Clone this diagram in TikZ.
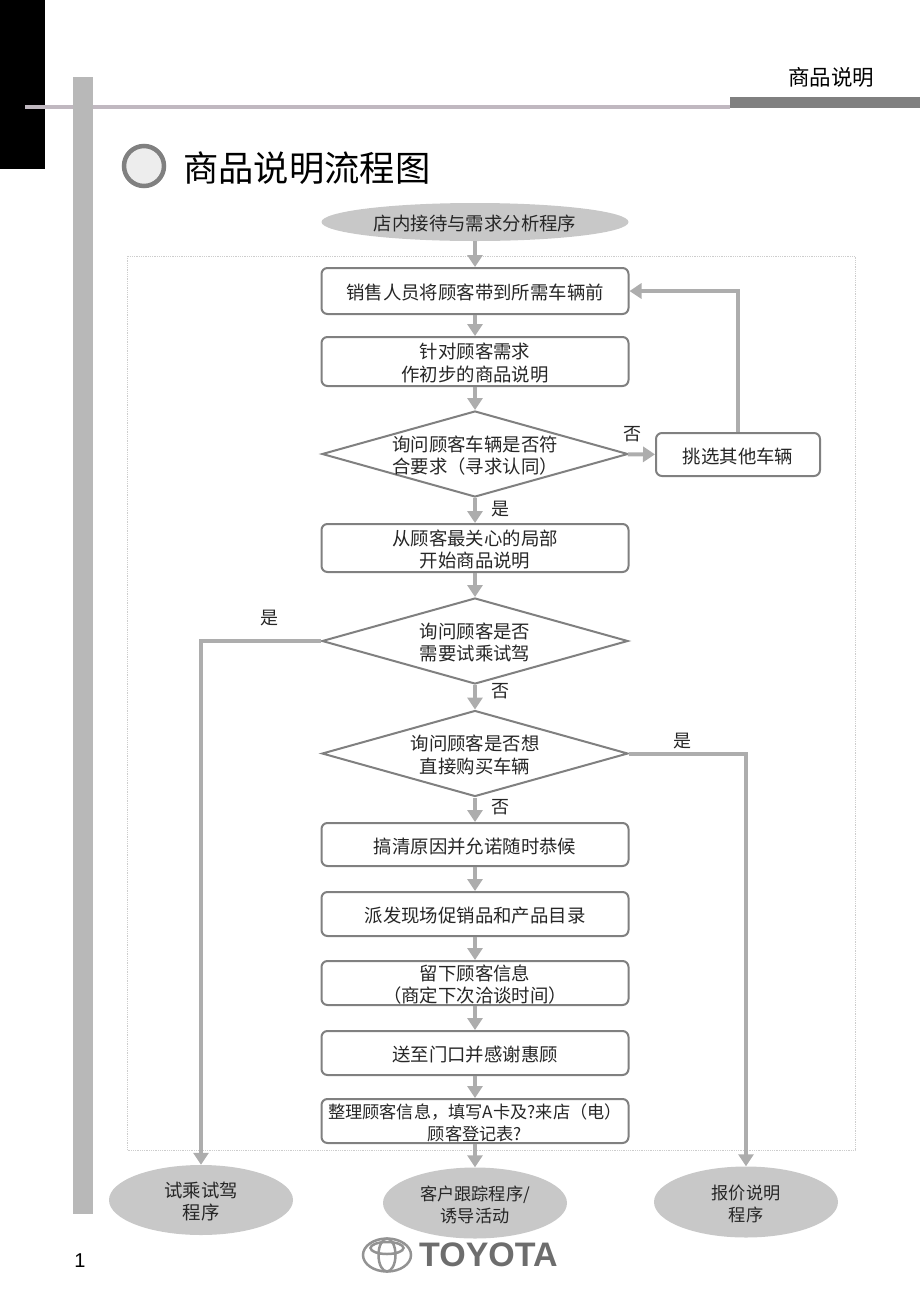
\documentclass[tikz,border=0pt]{standalone}
\usepackage{fontspec}
\setmainfont{Liberation Sans}
\newfontfamily\cjk{Noto Sans CJK SC}
\usetikzlibrary{arrows.meta,shapes.geometric}
\definecolor{barfill}{HTML}{B8B8B8}
\definecolor{capfill}{HTML}{C8C8C8}
\definecolor{edgegray}{HTML}{808080}
\definecolor{flowgray}{HTML}{ADADAD}
\definecolor{rulegray}{HTML}{C0B8C0}
\tikzset{
  boxtext/.style={font=\cjk\fontsize{18.4}{22.5}\selectfont,align=center,text=black!85,yshift=-1.5pt},
  smalltext/.style={boxtext,font=\cjk\fontsize{17.2}{22}\selectfont},
  say/.style={label={[boxtext]center:{#1}}},
  saysmall/.style={label={[smalltext]center:{#1}}},
  procbox/.style={draw=edgegray,line width=2pt,rounded corners=6pt,fill=white,minimum width=307pt,inner sep=0pt},
  decision/.style={draw=edgegray,line width=2pt,fill=white,diamond,aspect=3.55,minimum width=306pt,minimum height=86pt,inner sep=0pt},
  terminal/.style={ellipse,fill=capfill,inner sep=0pt},
  flow/.style={draw=flowgray,line width=4pt,-{Triangle[length=12pt,width=15pt]}},
  answer/.style={font=\cjk\fontsize{18}{18}\selectfont,text=black!85}
}
\newcommand{\stepbox}[4]{\node[procbox,minimum height=#3pt,say={#4}] (#1) at (475,#2) {};}
\newcommand{\askbox}[3]{\node[decision,say={#3}] (#1) at (475,#2) {};}
\begin{document}
\begin{tikzpicture}[x=1pt,y=-1pt]
\useasboundingbox (0,0) rectangle (920,1302);
\fill[black] (0,0) rectangle (45,169);
\fill[rulegray] (25,105) rectangle (730,109);
\fill[barfill] (73,77) rectangle (93,1214);
\fill[edgegray] (730,97) rectangle (920,108);
\node[font=\cjk\fontsize{21.5}{21.5}\selectfont] (header) at (831,77) {商品说明};
\node[circle,draw=edgegray,line width=4.5pt,fill=black!7,minimum size=40pt] (bullet) at (144,166) {};
\node[font=\cjk\fontsize{35.3}{35}\selectfont,anchor=west,inner sep=0pt] (title) at (183,168) {商品说明流程图};
\draw[barfill!70,line width=0.8pt,densely dotted] (127,256) rectangle (855,1150);
\node[terminal,minimum width=307pt,minimum height=38pt,say={店内接待与需求分析程序}] (start) at (475,222) {};
\stepbox{bring}{291}{46}{销售人员将顾客带到所需车辆前}
\stepbox{first}{361.5}{49}{针对顾客需求\\作初步的商品说明}
\askbox{fit}{454}{询问顾客车辆是否符\\合要求（寻求认同）}
\node[procbox,minimum width=164pt,minimum height=43pt,say={挑选其他车辆}] (other) at (738,454.5) {};
\stepbox{detail}{548}{48}{从顾客最关心的局部\\开始商品说明}
\askbox{drive}{641}{询问顾客是否\\需要试乘试驾}
\askbox{buy}{753.5}{询问顾客是否想\\直接购买车辆}
\stepbox{reason}{844.5}{43}{搞清原因并允诺随时恭候}
\stepbox{gift}{914}{44}{派发现场促销品和产品目录}
\stepbox{info}{983}{44}{留下顾客信息\\（商定下次洽谈时间）}
\stepbox{door}{1053}{44}{送至门口并感谢惠顾}
\node[procbox,minimum height=44pt,saysmall={整理顾客信息，填写A卡及?来店（电）\\顾客登记表?}] (card) at (475,1121) {};
\node[terminal,minimum width=184pt,minimum height=70pt,say={试乘试驾\\程序}] (testdrive) at (201,1200) {};
\node[terminal,minimum width=184pt,minimum height=71pt,saysmall={客户跟踪程序/\\诱导活动}] (follow) at (475,1203) {};
\node[terminal,minimum width=184pt,minimum height=71pt,saysmall={报价说明\\程序}] (quote) at (746,1202) {};
\draw[flow] (start) -- (bring);
\draw[flow] (bring) -- (first);
\draw[flow] (first) -- (fit);
\draw[flow] (fit) -- (other);
\draw[flow] (other.north) |- (bring.east);
\draw[flow] (fit) -- (detail);
\draw[flow] (detail) -- (drive);
\draw[flow] (drive.west) -| (testdrive.north);
\draw[flow] (drive) -- (buy);
\draw[flow] (buy.east) -| (quote.north);
\draw[flow] (buy) -- (reason);
\draw[flow] (reason) -- (gift);
\draw[flow] (gift) -- (info);
\draw[flow] (info) -- (door);
\draw[flow] (door) -- (card);
\draw[flow] (card) -- (follow);
\node[answer] (no1) at (632,434) {否};
\node[answer] (yes1) at (500,509) {是};
\node[answer] (yes2) at (269,618) {是};
\node[answer] (no2) at (500,691) {否};
\node[answer] (yes3) at (682,741) {是};
\node[answer] (no3) at (500,807) {否};
\node[font=\fontsize{20}{20}\selectfont] (page) at (80,1261) {1};
\node[ellipse,draw=edgegray!85,line width=2.5pt,minimum width=48pt,minimum height=33pt,inner sep=0pt] (logoa) at (387,1255) {};
\node[ellipse,draw=edgegray!85,line width=2.5pt,minimum width=17pt,minimum height=33pt,inner sep=0pt] (logob) at (387,1255) {};
\node[ellipse,draw=edgegray!85,line width=2.5pt,minimum width=33pt,minimum height=12pt,inner sep=0pt] (logoc) at (387,1248) {};
\node[font=\fontsize{34}{34}\selectfont\bfseries,text=edgegray!85!black,anchor=west,inner sep=0pt] (brand) at (419,1255) {TOYOTA};
\end{tikzpicture}
\end{document}
